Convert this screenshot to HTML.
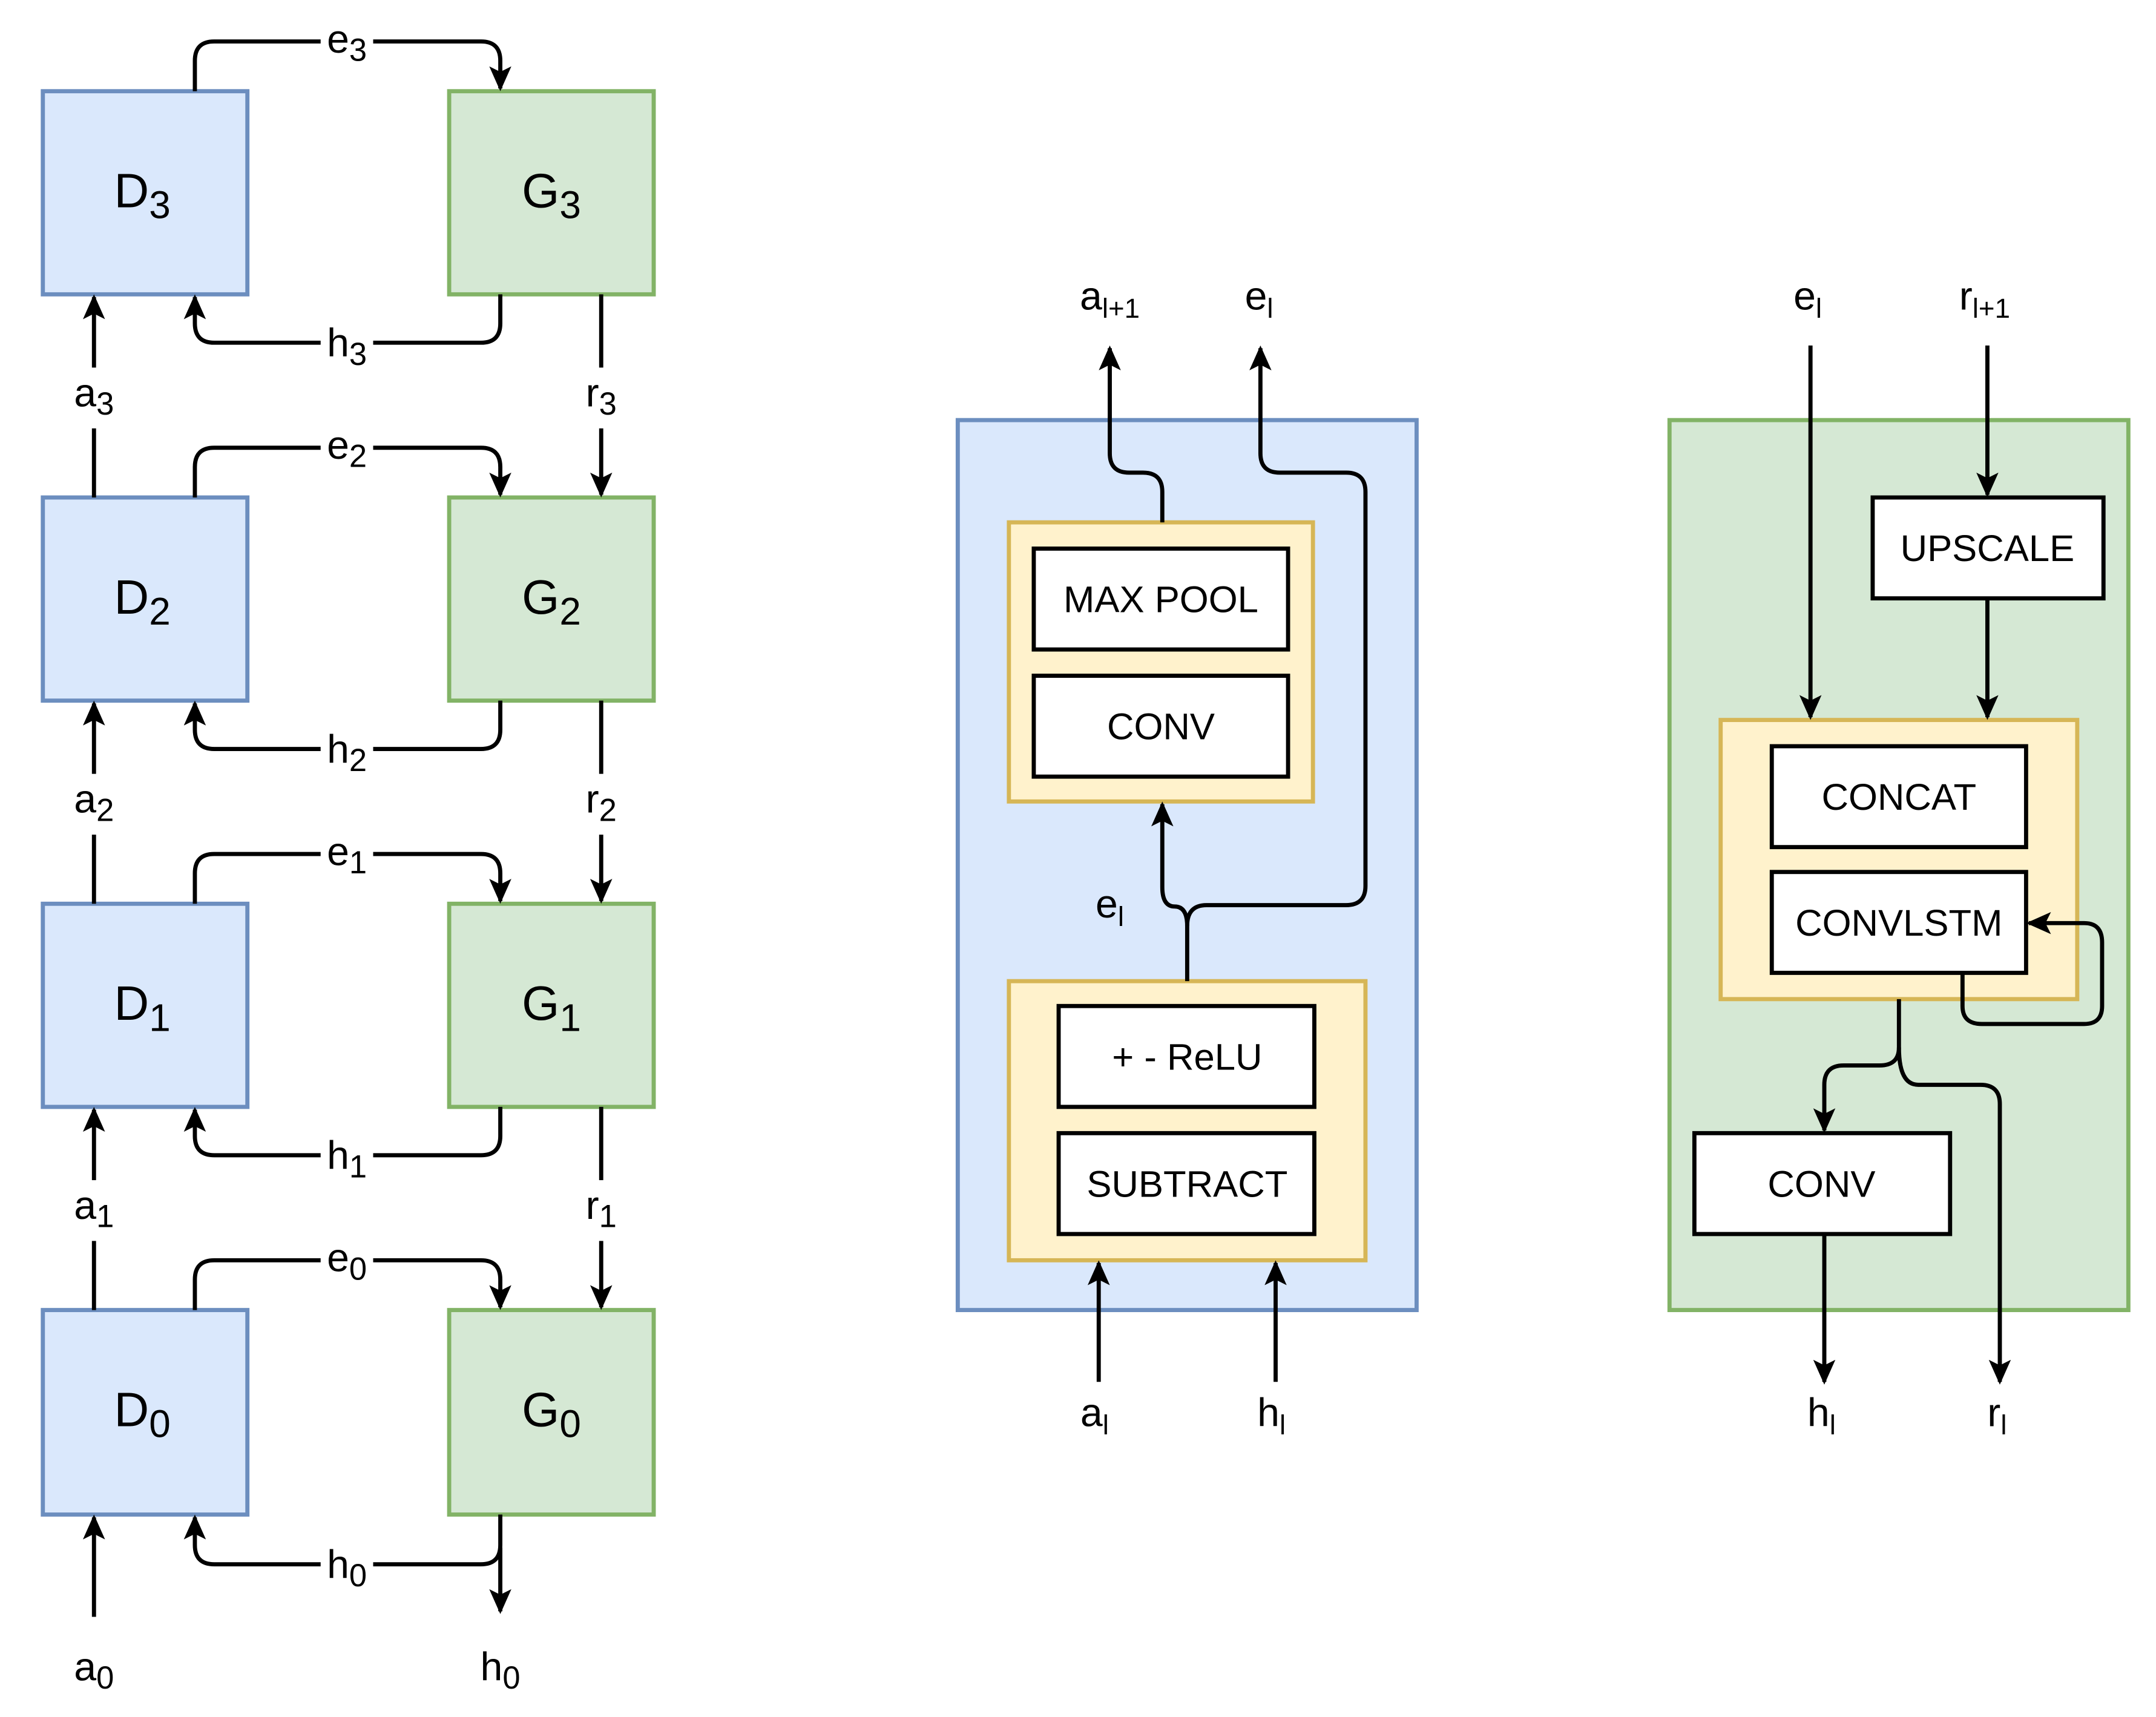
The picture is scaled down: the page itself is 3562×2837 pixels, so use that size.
<!DOCTYPE html>
<html><head><meta charset="utf-8"><style>
html,body{margin:0;padding:0;background:#fff;}
svg{display:block;}
text{font-family:"Liberation Sans",Arial,sans-serif;fill:#000;}
</style></head><body>
<svg width="3562" height="2837" viewBox="0 0 1560 1242.5" preserveAspectRatio="none" xmlns="http://www.w3.org/2000/svg">
<defs>
<marker id="ar" markerWidth="18" markerHeight="16" refX="16" refY="8" orient="auto" markerUnits="userSpaceOnUse">
<path d="M0,0 L18,8 L0,16 L4,8 Z" fill="#000"/>
</marker>
</defs>
<rect width="1560" height="1242.5" fill="#fff"/>
<g stroke-width="3">
<g fill="#dae8fc" stroke="#6c8ebf">
<rect x="31" y="66" width="148" height="147"/>
<rect x="31" y="360" width="148" height="147"/>
<rect x="31" y="654" width="148" height="147"/>
<rect x="31" y="948" width="148" height="148"/>
</g>
<g fill="#d5e8d4" stroke="#82b366">
<rect x="325" y="66" width="148" height="147"/>
<rect x="325" y="360" width="148" height="147"/>
<rect x="325" y="654" width="148" height="147"/>
<rect x="325" y="948" width="148" height="148"/>
</g>
</g>
<g fill="none" stroke="#000" stroke-width="3">
<path d="M141,66 V44 Q141,30 155,30 H348 Q362,30 362,44 V64" marker-end="url(#ar)"/>
<path d="M141,360 V338 Q141,324 155,324 H348 Q362,324 362,338 V358" marker-end="url(#ar)"/>
<path d="M141,654 V632 Q141,618 155,618 H348 Q362,618 362,632 V652" marker-end="url(#ar)"/>
<path d="M141,948 V926 Q141,912 155,912 H348 Q362,912 362,926 V946" marker-end="url(#ar)"/>
<path d="M362,213 V234 Q362,248 348,248 H155 Q141,248 141,234 V215" marker-end="url(#ar)"/>
<path d="M362,507 V528 Q362,542 348,542 H155 Q141,542 141,528 V509" marker-end="url(#ar)"/>
<path d="M362,801 V822 Q362,836 348,836 H155 Q141,836 141,822 V803" marker-end="url(#ar)"/>
<path d="M362,1096 V1118 Q362,1132 348,1132 H155 Q141,1132 141,1118 V1098" marker-end="url(#ar)"/>
<path d="M362,1120 V1166" marker-end="url(#ar)"/>
<path d="M68,360 V215" marker-end="url(#ar)"/>
<path d="M68,654 V509" marker-end="url(#ar)"/>
<path d="M68,948 V803" marker-end="url(#ar)"/>
<path d="M68,1170 V1098" marker-end="url(#ar)"/>
<path d="M435,213 V358" marker-end="url(#ar)"/>
<path d="M435,507 V652" marker-end="url(#ar)"/>
<path d="M435,801 V946" marker-end="url(#ar)"/>
</g>
<g fill="#fff">
<rect x="232" y="14" width="38" height="34"/><rect x="232" y="234" width="38" height="34"/>
<rect x="232" y="308" width="38" height="34"/><rect x="232" y="528" width="38" height="34"/>
<rect x="232" y="602" width="38" height="34"/><rect x="232" y="822" width="38" height="34"/>
<rect x="232" y="896" width="38" height="34"/><rect x="232" y="1118" width="38" height="34"/>
<rect x="48" y="266" width="40" height="44"/><rect x="48" y="560" width="40" height="44"/><rect x="48" y="854" width="40" height="44"/>
<rect x="418" y="266" width="36" height="44"/><rect x="418" y="560" width="36" height="44"/><rect x="418" y="854" width="36" height="44"/>
</g>
<g font-size="29" text-anchor="middle">
<text x="251" y="38">e<tspan font-size="23" dy="6">3</tspan></text>
<text x="251" y="258">h<tspan font-size="23" dy="6">3</tspan></text>
<text x="251" y="332">e<tspan font-size="23" dy="6">2</tspan></text>
<text x="251" y="552">h<tspan font-size="23" dy="6">2</tspan></text>
<text x="251" y="626">e<tspan font-size="23" dy="6">1</tspan></text>
<text x="251" y="846">h<tspan font-size="23" dy="6">1</tspan></text>
<text x="251" y="920">e<tspan font-size="23" dy="6">0</tspan></text>
<text x="251" y="1142">h<tspan font-size="23" dy="6">0</tspan></text>
<text x="68" y="294">a<tspan font-size="23" dy="6">3</tspan></text>
<text x="68" y="588">a<tspan font-size="23" dy="6">2</tspan></text>
<text x="68" y="882">a<tspan font-size="23" dy="6">1</tspan></text>
<text x="68" y="1216">a<tspan font-size="23" dy="6">0</tspan></text>
<text x="435" y="294">r<tspan font-size="23" dy="6">3</tspan></text>
<text x="435" y="588">r<tspan font-size="23" dy="6">2</tspan></text>
<text x="435" y="882">r<tspan font-size="23" dy="6">1</tspan></text>
<text x="362" y="1216">h<tspan font-size="23" dy="6">0</tspan></text>
</g>
<g font-size="35" text-anchor="middle">
<text x="103" y="150">D<tspan font-size="28" dy="8">3</tspan></text>
<text x="103" y="444">D<tspan font-size="28" dy="8">2</tspan></text>
<text x="103" y="738">D<tspan font-size="28" dy="8">1</tspan></text>
<text x="103" y="1032">D<tspan font-size="28" dy="8">0</tspan></text>
<text x="399" y="150">G<tspan font-size="28" dy="8">3</tspan></text>
<text x="399" y="444">G<tspan font-size="28" dy="8">2</tspan></text>
<text x="399" y="738">G<tspan font-size="28" dy="8">1</tspan></text>
<text x="399" y="1032">G<tspan font-size="28" dy="8">0</tspan></text>
</g>

<rect x="693" y="304" width="332" height="644" fill="#dae8fc" stroke="#6c8ebf" stroke-width="3"/>
<g fill="#fff2cc" stroke="#d6b656" stroke-width="3">
<rect x="730" y="378" width="220" height="202"/>
<rect x="730" y="710" width="258" height="202"/>
</g>
<g fill="#fff" stroke="#000" stroke-width="3">
<rect x="748" y="397" width="184" height="73"/>
<rect x="748" y="489" width="184" height="73"/>
<rect x="766" y="728" width="185" height="73"/>
<rect x="766" y="820" width="185" height="73"/>
</g>
<g fill="none" stroke="#000" stroke-width="3">
<path d="M795,1000 V914" marker-end="url(#ar)"/>
<path d="M923,1000 V914" marker-end="url(#ar)"/>
<path d="M859,710 V670 Q859,656 850,656 Q841,656 841,642 V582" marker-end="url(#ar)"/>
<path d="M859,670 Q859,655 873,655 H974 Q988,655 988,641 V356 Q988,342 974,342 H926 Q912,342 912,328 V252" marker-end="url(#ar)"/>
<path d="M841,378 V356 Q841,342 827,342 H817 Q803,342 803,328 V252" marker-end="url(#ar)"/>
</g>
<g font-size="27" text-anchor="middle">
<text x="840" y="443">MAX POOL</text>
<text x="840" y="535">CONV</text>
<text x="859" y="774">+ - ReLU</text>
<text x="859" y="866">SUBTRACT</text>
</g>
<g font-size="29" text-anchor="middle">
<text x="792" y="1032">a<tspan font-size="20" dy="6">l</tspan></text>
<text x="920" y="1032">h<tspan font-size="20" dy="6">l</tspan></text>
<text x="803" y="664">e<tspan font-size="20" dy="6">l</tspan></text>
<text x="803" y="224">a<tspan font-size="20" dy="6">l+1</tspan></text>
<text x="911" y="224">e<tspan font-size="20" dy="6">l</tspan></text>
</g>

<rect x="1208" y="304" width="332" height="644" fill="#d5e8d4" stroke="#82b366" stroke-width="3"/>
<rect x="1245" y="521" width="258" height="202" fill="#fff2cc" stroke="#d6b656" stroke-width="3"/>
<g fill="#fff" stroke="#000" stroke-width="3">
<rect x="1355" y="360" width="167" height="73"/>
<rect x="1282" y="540" width="184" height="73"/>
<rect x="1282" y="631" width="184" height="73"/>
<rect x="1226" y="820" width="185" height="73"/>
</g>
<g fill="none" stroke="#000" stroke-width="3">
<path d="M1310,250 V519" marker-end="url(#ar)"/>
<path d="M1438,250 V358" marker-end="url(#ar)"/>
<path d="M1438,433 V519" marker-end="url(#ar)"/>
<path d="M1420,704 V728 Q1420,741 1434,741 H1508 Q1521,741 1521,728 V682 Q1521,668 1508,668 H1468" marker-end="url(#ar)"/>
<path d="M1374,723 V758 Q1374,771 1360,771 H1334 Q1320,771 1320,785 V818" marker-end="url(#ar)"/>
<path d="M1374,758 Q1374,785 1388,785 H1433 Q1447,785 1447,799 V1000" marker-end="url(#ar)"/>
<path d="M1320,893 V1000" marker-end="url(#ar)"/>
</g>
<g font-size="27" text-anchor="middle">
<text x="1438" y="406">UPSCALE</text>
<text x="1374" y="586">CONCAT</text>
<text x="1374" y="677">CONVLSTM</text>
<text x="1318" y="866">CONV</text>
</g>
<g font-size="29" text-anchor="middle">
<text x="1308" y="224">e<tspan font-size="20" dy="6">l</tspan></text>
<text x="1436" y="224">r<tspan font-size="20" dy="6">l+1</tspan></text>
<text x="1318" y="1032">h<tspan font-size="20" dy="6">l</tspan></text>
<text x="1445" y="1032">r<tspan font-size="20" dy="6">l</tspan></text>
</g>
</svg>
</body></html>
